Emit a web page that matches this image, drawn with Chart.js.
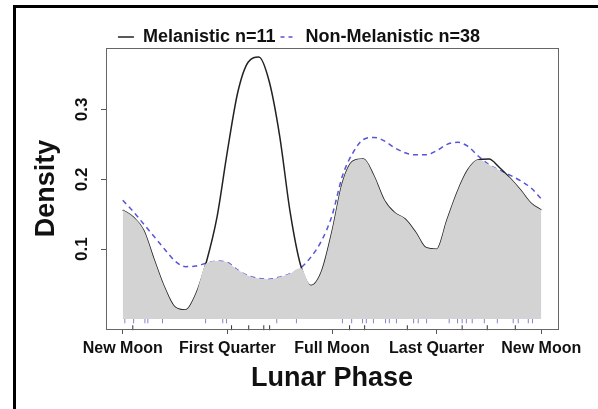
<!DOCTYPE html>
<html>
<head>
<meta charset="utf-8">
<title>Lunar phase activity overlap</title>
<script src="https://cdn.jsdelivr.net/npm/chart.js@4.4.1/dist/chart.umd.min.js"></script>
<style>
    html, body { margin: 0; padding: 0; background: #fff; }
    #wrap { position: relative; width: 598px; height: 409px; overflow: hidden; }
    #frame {
        position: absolute; left: 13px; top: 5px; right: -10px; bottom: -10px;
        border-left: 3px solid #000; border-top: 3px solid #000; pointer-events: none;
    }
</style>
</head>
<body>
<div id="wrap">
    <canvas id="chart" width="598" height="409"></canvas>
    <div id="frame"></div>
</div>
<script>
// Phase position as fraction of the lunar cycle (0 = new moon, 1 = next new moon)
const phase = [
    0.000, 0.025, 0.050, 0.075, 0.100, 0.125, 0.150, 0.175, 0.200, 0.225,
    0.250, 0.275, 0.300, 0.325, 0.350, 0.375, 0.400, 0.425, 0.450, 0.475,
    0.500, 0.525, 0.550, 0.575, 0.600, 0.625, 0.650, 0.675, 0.700, 0.725,
    0.750, 0.775, 0.800, 0.825, 0.850, 0.875, 0.900, 0.925, 0.950, 0.975,
    1.000
];

// Kernel density, melanistic (solid black)
const melanistic = [
    0.156, 0.146, 0.127, 0.085, 0.045, 0.017, 0.013, 0.036, 0.082, 0.145,
    0.240, 0.325, 0.368, 0.375, 0.340, 0.262, 0.153, 0.077, 0.048, 0.068,
    0.125, 0.195, 0.226, 0.229, 0.205, 0.170, 0.152, 0.143, 0.124, 0.102,
    0.100, 0.142, 0.183, 0.214, 0.228, 0.229, 0.217, 0.202, 0.185, 0.166,
    0.156
];

// Kernel density, non-melanistic (dashed blue)
const nonMelanistic = [
    0.170, 0.154, 0.136, 0.118, 0.100, 0.083, 0.075, 0.076, 0.080, 0.083,
    0.081, 0.070, 0.062, 0.058, 0.057, 0.060, 0.065, 0.073, 0.089, 0.112,
    0.148, 0.205, 0.238, 0.257, 0.260, 0.255, 0.245, 0.238, 0.235, 0.235,
    0.241, 0.250, 0.253, 0.247, 0.233, 0.221, 0.213, 0.206, 0.198, 0.188,
    0.172
];

// Shaded overlap (lower of the two curves)
const overlapArea = [
    0.156, 0.146, 0.127, 0.085, 0.045, 0.017, 0.013, 0.036, 0.080, 0.083,
    0.081, 0.070, 0.062, 0.058, 0.057, 0.060, 0.065, 0.073, 0.048, 0.068,
    0.125, 0.195, 0.226, 0.229, 0.205, 0.170, 0.152, 0.143, 0.124, 0.102,
    0.100, 0.142, 0.183, 0.214, 0.228, 0.221, 0.213, 0.202, 0.185, 0.166,
    0.156
];

// Rug: individual detections
const rugMelanistic = [0.024, 0.260, 0.301, 0.337, 0.351, 0.542, 0.578, 0.680, 0.811, 0.871, 0.938];
const rugNonMelanistic = [
    0.005, 0.026, 0.053, 0.060, 0.095, 0.198, 0.239, 0.248, 0.368, 0.415,
    0.525, 0.547, 0.573, 0.582, 0.599, 0.628, 0.637, 0.654, 0.695, 0.706,
    0.726, 0.780, 0.800, 0.811, 0.821, 0.835, 0.864, 0.895, 0.933, 0.945,
    0.969, 0.979
];

const phaseTicks = [0, 0.25, 0.5, 0.75, 1];
const phaseLabels = ['New Moon', 'First Quarter', 'Full Moon', 'Last Quarter', 'New Moon'];
const densityTicks = [0.1, 0.2, 0.3];

const seriesNames = ['Melanistic n=11', 'Non-Melanistic n=38'];

Chart.defaults.font.family = "'Liberation Sans', Arial, sans-serif";
Chart.defaults.color = '#111';

const toXY = (ys) => ys.map((y, i) => ({ x: phase[i], y }));

// plot box like R's box()
const plotBox = {
    id: 'plotBox',
    afterDatasetsDraw(chart) {
        const { ctx, chartArea: a } = chart;
        ctx.save();
        ctx.strokeStyle = '#666';
        ctx.lineWidth = 1;
        ctx.strokeRect(Math.round(a.left) + 0.5, Math.round(a.top) + 0.5,
            Math.round(a.right - a.left), Math.round(a.bottom - a.top));
        ctx.restore();
    }
};

// legend sits tight on the plot box (v4 adds a fixed 10px under the legend)
const tightLegend = {
    id: 'tightLegend',
    beforeLayout(chart) {
        const lg = chart.legend;
        if (!lg || lg._tight) return;
        const fit = lg.fit.bind(lg);
        lg.fit = function () { fit(); this.height -= 8; };
        lg._tight = true;
    }
};

new Chart(document.getElementById('chart'), {
    type: 'line',
    data: {
        datasets: [
            {
                label: 'overlap',
                data: toXY(overlapArea),
                backgroundColor: '#d3d3d3',
                borderWidth: 0,
                pointRadius: 0,
                fill: 'origin',
                cubicInterpolationMode: 'monotone',
            },
            {
                label: seriesNames[0],
                data: toXY(melanistic),
                borderColor: '#222',
                borderWidth: 1.5,
                pointRadius: 0,
                fill: false,
                cubicInterpolationMode: 'monotone',
            },
            {
                label: seriesNames[1],
                data: toXY(nonMelanistic),
                borderColor: 'rgb(85, 85, 215)',
                borderWidth: 1.5,
                borderDash: [5, 4],
                pointRadius: 0,
                fill: false,
                cubicInterpolationMode: 'monotone',
            },
            {
                type: 'scatter',
                label: 'rug2',
                data: rugNonMelanistic.map(x => ({ x, y: -0.003 })),
                pointStyle: 'line',
                rotation: 90,
                pointRadius: 2.2,
                borderColor: 'rgba(90, 90, 190, 0.75)',
                borderWidth: 1,
                clip: false,
            },
            {
                type: 'scatter',
                label: 'rug1',
                data: rugMelanistic.map(x => ({ x, y: -0.0125 })),
                pointStyle: 'line',
                rotation: 90,
                pointRadius: 2.5,
                borderColor: '#333',
                borderWidth: 1,
                clip: false,
            }
        ]
    },
    options: {
        responsive: false,
        animation: false,
        events: [],
        layout: { padding: { left: 0, right: 0, top: 23, bottom: 0 } },
        plugins: {
            legend: {
                position: 'top',
                labels: {
                    filter: (item) => item.datasetIndex === 1 || item.datasetIndex === 2,
                    generateLabels: (chart) => {
                        const items = Chart.defaults.plugins.legend.labels.generateLabels(chart);
                        items.forEach(it => { if (it.datasetIndex === 2) it.lineDash = [4, 4]; });
                        return items;
                    },
                    usePointStyle: true,
                    pointStyle: 'line',
                    pointStyleWidth: 16,
                    padding: 5,
                    color: '#111',
                    font: { size: 18, weight: 'bold' }
                }
            },
            tooltip: { enabled: false }
        },
        scales: {
            x: {
                type: 'linear',
                min: -0.04,
                max: 1.04,
                afterBuildTicks: (axis) => { axis.ticks = phaseTicks.map(v => ({ value: v })); },
                afterFit: (axis) => { axis.height = 80; },
                ticks: {
                    autoSkip: false,
                    maxRotation: 0,
                    padding: 5,
                    color: '#111',
                    font: { size: 16, weight: 'bold' },
                    callback: (v, i) => phaseLabels[i]
                },
                grid: { drawOnChartArea: false, drawTicks: true, tickLength: 5, color: '#555' },
                border: { display: false },
                title: {
                    display: true,
                    text: 'Lunar Phase',
                    color: '#111',
                    font: { size: 27, weight: 'bold' },
                    padding: { top: 0, bottom: 14 }
                }
            },
            y: {
                min: -0.0143,
                max: 0.388,
                afterBuildTicks: (axis) => { axis.ticks = densityTicks.map(v => ({ value: v })); },
                afterFit: (axis) => { axis.width = 106; },
                ticks: {
                    minRotation: 90,
                    maxRotation: 90,
                    crossAlign: 'center',
                    padding: 7,
                    color: '#111',
                    font: { size: 17, weight: 'bold' },
                    callback: (v) => v.toFixed(1)
                },
                grid: { drawOnChartArea: false, drawTicks: true, tickLength: 5, color: '#555' },
                border: { display: false },
                title: {
                    display: true,
                    text: 'Density',
                    color: '#111',
                    font: { size: 27, weight: 'bold' },
                    padding: { top: 30, bottom: 0 }
                }
            },
            // empty right margin so the legend centres over the full figure
            yRight: {
                position: 'right',
                display: true,
                ticks: { display: false },
                grid: { display: false },
                border: { display: false },
                afterFit: (axis) => { axis.width = 40; }
            }
        }
    },
    plugins: [plotBox, tightLegend]
});
</script>
</body>
</html>
